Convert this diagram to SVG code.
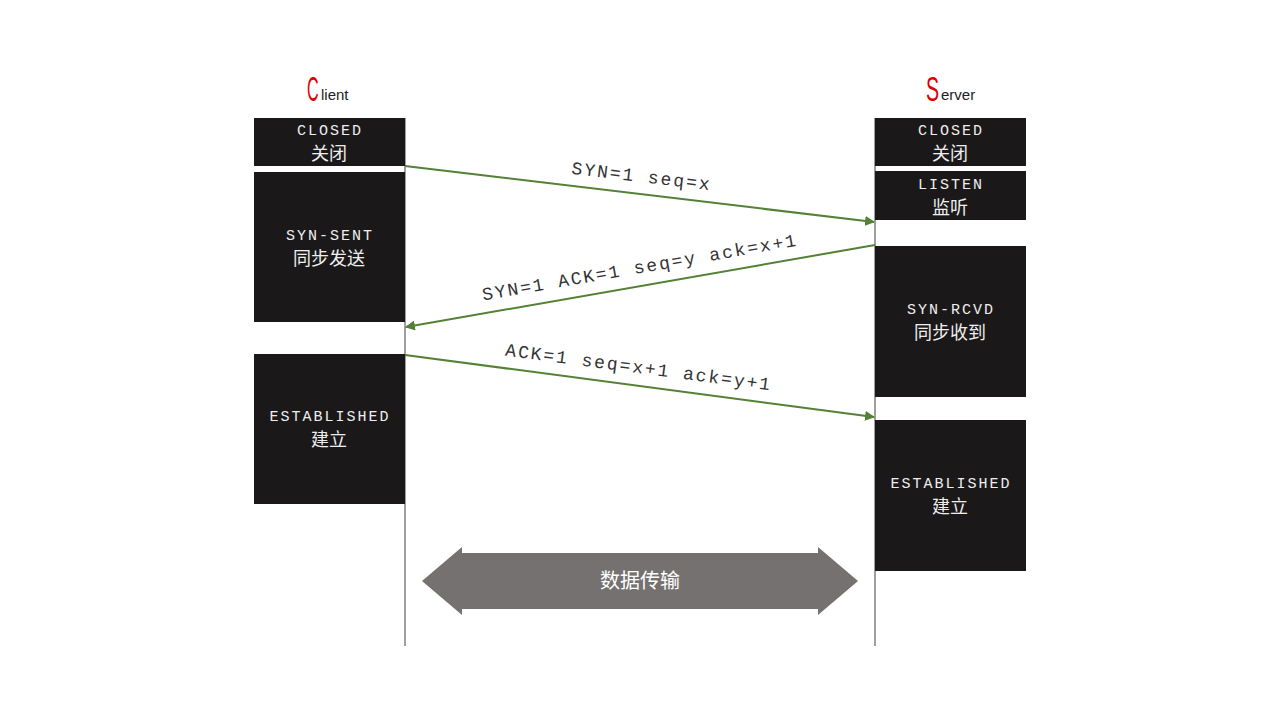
<svg xmlns="http://www.w3.org/2000/svg" width="1280" height="720" viewBox="0 0 1280 720">
  <style>
    .box { fill: #1b1819; }
    .en { font-family: "Liberation Mono", "Courier New", monospace; font-size: 15px; letter-spacing: 2px; fill: #eeeeee; text-anchor: middle; }
    .zh { font-family: "Noto Sans CJK SC", sans-serif; font-size: 18px; fill: #eeeeee; text-anchor: middle; }
    .life { stroke: #7f7f7f; stroke-width: 1.5; fill: none; }
    .msg { stroke: #538135; stroke-width: 2; fill: none; marker-end: url(#arr); }
    .lbl { font-family: "Liberation Mono", "Courier New", monospace; font-size: 18px; letter-spacing: 2px; fill: #333333; text-anchor: middle; }
    .big { font-family: "Liberation Sans", sans-serif; fill: #e00000; font-size: 35px; }
    .small { font-family: "Liberation Sans", sans-serif; fill: #222222; font-size: 15px; }
  </style>
  <defs>
    <marker id="arr" viewBox="0 0 10 10" refX="9" refY="5" markerWidth="5" markerHeight="5" orient="auto" markerUnits="strokeWidth">
      <path d="M0,0 L10,5 L0,10 z" fill="#538135"/>
    </marker>
  </defs>
  <rect width="1280" height="720" fill="#ffffff"/>

  <!-- participant titles: condensed large red initial, rest small -->
  <g id="title-client">
    <text class="big" transform="translate(307,101) scale(0.46,1)">C</text>
    <text class="small" x="321" y="100">lient</text>
  </g>
  <g id="title-server">
    <text class="big" transform="translate(926,101) scale(0.56,1)">S</text>
    <text class="small" x="941" y="100">erver</text>
  </g>

  <!-- lifelines -->
  <g id="lifelines">
    <line class="life" x1="405" y1="118" x2="405" y2="646"/>
    <line class="life" x1="875" y1="118" x2="875" y2="646"/>
  </g>

  <!-- client states -->
  <g id="c-closed">
    <rect class="box" x="254" y="118" width="151" height="48"/>
    <text class="en" x="330" y="135">CLOSED</text>
    <text class="zh" x="329" y="160">关闭</text>
  </g>
  <g id="c-synsent">
    <rect class="box" x="254" y="172" width="151" height="150"/>
    <text class="en" x="330" y="240">SYN-SENT</text>
    <text class="zh" x="329" y="265">同步发送</text>
  </g>
  <g id="c-established">
    <rect class="box" x="254" y="354" width="151" height="150"/>
    <text class="en" x="330" y="421">ESTABLISHED</text>
    <text class="zh" x="329" y="446">建立</text>
  </g>

  <!-- server states -->
  <g id="s-closed">
    <rect class="box" x="875" y="118" width="151" height="48"/>
    <text class="en" x="951" y="135">CLOSED</text>
    <text class="zh" x="950" y="160">关闭</text>
  </g>
  <g id="s-listen">
    <rect class="box" x="875" y="171" width="151" height="49"/>
    <text class="en" x="951" y="189">LISTEN</text>
    <text class="zh" x="950" y="214">监听</text>
  </g>
  <g id="s-synrcvd">
    <rect class="box" x="875" y="246" width="151" height="151"/>
    <text class="en" x="951" y="314">SYN-RCVD</text>
    <text class="zh" x="950" y="339">同步收到</text>
  </g>
  <g id="s-established">
    <rect class="box" x="875" y="420" width="151" height="151"/>
    <text class="en" x="951" y="488">ESTABLISHED</text>
    <text class="zh" x="950" y="513">建立</text>
  </g>

  <!-- handshake messages -->
  <g id="connectors">
    <line class="msg" x1="405" y1="166" x2="874" y2="222"/>
    <line class="msg" x1="875" y1="245" x2="406" y2="327"/>
    <line class="msg" x1="405" y1="355" x2="874" y2="417"/>
  </g>
  <g id="labels">
    <text class="lbl" transform="translate(641,182) rotate(6.8)">SYN=1 seq=x</text>
    <text class="lbl" transform="translate(641,273) rotate(-9.9)">SYN=1 ACK=1 seq=y ack=x+1</text>
    <text class="lbl" transform="translate(638,373) rotate(7.5)">ACK=1 seq=x+1 ack=y+1</text>
  </g>

  <!-- data transfer -->
  <g id="data-transfer">
    <polygon points="422,581 462,547 462,553 818,553 818,547 858,581 818,615 818,609 462,609 462,615" fill="#767171"/>
    <text x="640" y="588" font-family="Noto Sans CJK SC, sans-serif" font-size="20" fill="#ffffff" text-anchor="middle">数据传输</text>
  </g>
</svg>
